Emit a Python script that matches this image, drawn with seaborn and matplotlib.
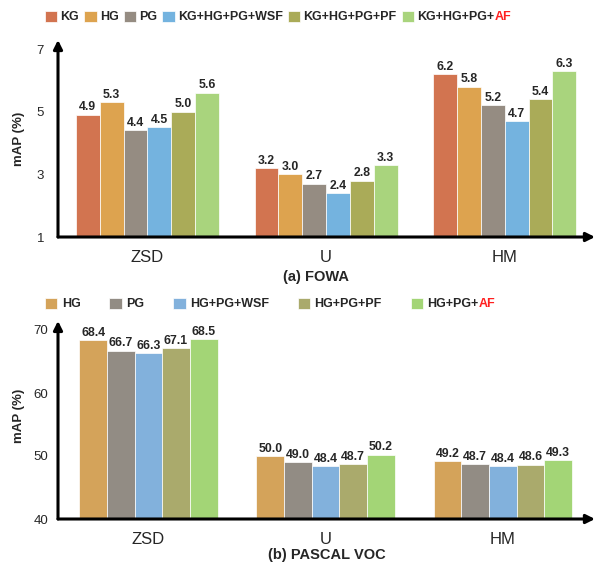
import pandas as pd
import numpy as np
import matplotlib
matplotlib.use('Agg')
import matplotlib.pyplot as plt
import seaborn as sns

sns.set_style('white')
plt.rcParams['font.family'] = ['Liberation Sans', 'DejaVu Sans']

# DATA ###############################################################
groups = ['ZSD', 'U', 'HM']

fowa_methods = ['KG', 'HG', 'PG', 'KG+HG+PG+WSF', 'KG+HG+PG+PF', 'KG+HG+PG+AF']
fowa_zsd = [4.9, 5.3, 4.4, 4.5, 5.0, 5.6]
fowa_u = [3.2, 3.0, 2.7, 2.4, 2.8, 3.3]
fowa_hm = [6.2, 5.8, 5.2, 4.7, 5.4, 6.3]
fowa_colors = ['#D27450', '#DDA34F', '#958C82', '#74B3DF', '#AAAB58', '#A9D47D']

voc_methods = ['HG', 'PG', 'HG+PG+WSF', 'HG+PG+PF', 'HG+PG+AF']
voc_zsd = [68.4, 66.7, 66.3, 67.1, 68.5]
voc_u = [50.0, 49.0, 48.4, 48.7, 50.2]
voc_hm = [49.2, 48.7, 48.4, 48.6, 49.3]
voc_colors = ['#D4A35A', '#928C84', '#82B1DC', '#AAAA6C', '#A3D576']


def to_df(methods, vals):
    rows = []
    for g, v in zip(groups, vals):
        for m, x in zip(methods, v):
            rows.append((g, m, x))
    return pd.DataFrame(rows, columns=['group', 'method', 'mAP'])


df_a = to_df(fowa_methods, [fowa_zsd, fowa_u, fowa_hm])
df_b = to_df(voc_methods, [voc_zsd, voc_u, voc_hm])

fig = plt.figure(figsize=(5.97, 5.64), dpi=100)
W, H = 597, 564
ax_a = fig.add_axes([58 / W, 1 - 237 / H, 537 / W, 188 / H])
ax_b = fig.add_axes([58 / W, 1 - 519 / H, 537 / W, 189 / H])


def draw(ax, df, methods, colors, width, ylim, yticks, xlim, ypad, ylab_y):
    sns.barplot(data=df, x='group', y='mAP', hue='method', hue_order=methods,
                palette=colors, width=width, ax=ax, edgecolor='white',
                linewidth=0.5, saturation=1)
    for c in ax.containers:
        ax.bar_label(c, fmt='%.1f', fontsize=8.8, fontweight='bold', padding=1)
    ax.set_ylim(*ylim)
    ax.set_xlim(*xlim)
    ax.set_yticks(yticks)
    ax.tick_params(axis='y', length=0, pad=ypad, labelsize=9.5)
    ax.tick_params(axis='x', length=0, pad=9, labelsize=12)
    ax.set_xlabel('')
    ax.set_ylabel('mAP (%)', fontsize=9.5, fontweight='bold')
    ax.yaxis.set_label_coords(-0.061, ylab_y)
    for s in ax.spines.values():
        s.set_visible(False)
    arr = dict(arrowstyle='-|>', lw=2.2, color='black', mutation_scale=13,
               shrinkA=0, shrinkB=0)
    ax.annotate('', xy=(0, 1.048), xytext=(0, 0), xycoords='axes fraction',
                arrowprops=arr, annotation_clip=False)
    ax.annotate('', xy=(1.0, 0), xytext=(0, 0), xycoords='axes fraction',
                arrowprops=arr, annotation_clip=False)
    handles, labels = ax.get_legend_handles_labels()
    ax.legend_.remove()
    return handles


h_a = draw(ax_a, df_a, fowa_methods, fowa_colors, 0.8, (1, 7), [1, 3, 5, 7],
           (-0.5, 2.505), 10, 0.52)
h_b = draw(ax_b, df_b, voc_methods, voc_colors, 0.78, (40, 70), [40, 50, 60, 70],
           (-0.51, 2.52), 7, 0.545)

lab_a = fowa_methods[:-1] + ['KG+HG+PG+']
lab_b = voc_methods[:-1] + ['HG+PG+']
leg_a = fig.legend(h_a, lab_a, loc='center left', bbox_to_anchor=(45 / W, 1 - 17 / H),
                   ncol=6, frameon=False, borderpad=0, borderaxespad=0,
                   prop=dict(weight='bold', size=9), handlelength=1.0,
                   handleheight=1.0, handletextpad=0.25, columnspacing=0.4)
leg_b = fig.legend(h_b, lab_b, loc='center left', bbox_to_anchor=(45 / W, 1 - 304 / H),
                   ncol=5, frameon=False, borderpad=0, borderaxespad=0,
                   prop=dict(weight='bold', size=9), handlelength=1.0,
                   handleheight=1.0, handletextpad=0.35, columnspacing=2.3)

fig.text(316 / W, 1 - 277 / H, '(a) FOWA', ha='center', va='center',
         fontsize=10.5, fontweight='bold')
fig.text(327 / W, 1 - 555 / H, '(b) PASCAL VOC', ha='center', va='center',
         fontsize=10.5, fontweight='bold')

# red "AF" after the last legend entry
fig.canvas.draw()
inv = fig.transFigure.inverted()
for leg in [leg_a, leg_b]:
    bb = leg.get_texts()[-1].get_window_extent()
    x, y = inv.transform((bb.x1, bb.y0))
    fig.text(x, y, 'AF', color='#FF1F1F', fontsize=9, fontweight='bold',
             ha='left', va='bottom')

plt.savefig('out.png', dpi=100)
